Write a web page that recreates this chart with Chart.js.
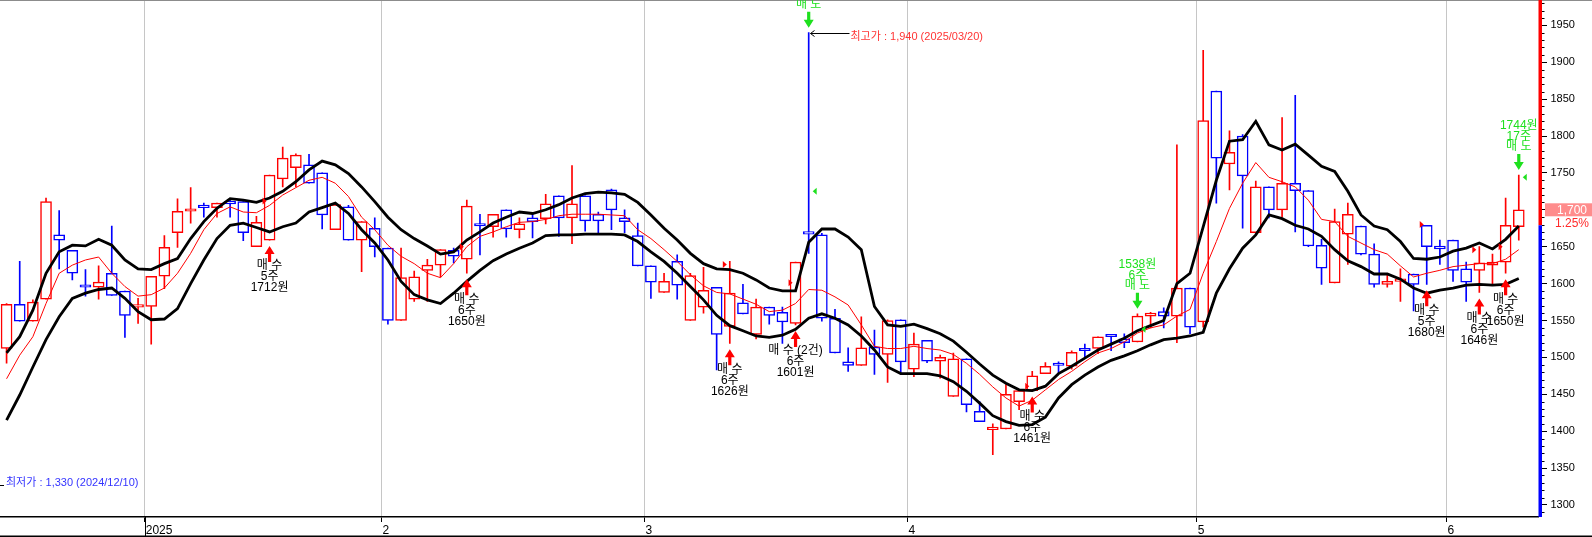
<!DOCTYPE html>
<html>
<head>
<meta charset="utf-8">
<script src="https://cdn.jsdelivr.net/npm/chart.js@4.4.1/dist/chart.umd.min.js"></script>
<style>
  html, body { margin: 0; padding: 0; background: #fff; overflow: hidden; }
  #wrap { width: 1592px; height: 537px; position: relative; }
</style>
</head>
<body>
<div id="wrap"><canvas id="priceChart"></canvas></div>
<script>
// trading days shown on the chart
const dates = [
  '2024-12-13','2024-12-16','2024-12-17','2024-12-18','2024-12-19','2024-12-20','2024-12-23','2024-12-24','2024-12-26','2024-12-27','2024-12-30',
  '2025-01-02','2025-01-03','2025-01-06','2025-01-07','2025-01-08','2025-01-09','2025-01-10','2025-01-13','2025-01-14','2025-01-15',
  '2025-01-16','2025-01-17','2025-01-20','2025-01-21','2025-01-22','2025-01-23','2025-01-24','2025-01-31','2025-02-03','2025-02-04',
  '2025-02-05','2025-02-06','2025-02-07','2025-02-10','2025-02-11','2025-02-12','2025-02-13','2025-02-14','2025-02-17','2025-02-18',
  '2025-02-19','2025-02-20','2025-02-21','2025-02-24','2025-02-25','2025-02-26','2025-02-27','2025-02-28','2025-03-04','2025-03-05',
  '2025-03-06','2025-03-07','2025-03-10','2025-03-11','2025-03-12','2025-03-13','2025-03-14','2025-03-17','2025-03-18','2025-03-19',
  '2025-03-20','2025-03-21','2025-03-24','2025-03-25','2025-03-26','2025-03-27','2025-03-28','2025-03-31','2025-04-01','2025-04-02',
  '2025-04-03','2025-04-04','2025-04-07','2025-04-08','2025-04-09','2025-04-10','2025-04-11','2025-04-14','2025-04-15','2025-04-16',
  '2025-04-17','2025-04-18','2025-04-21','2025-04-22','2025-04-23','2025-04-24','2025-04-25','2025-04-28','2025-04-29','2025-04-30',
  '2025-05-02','2025-05-07','2025-05-08','2025-05-09','2025-05-12','2025-05-13','2025-05-14','2025-05-15','2025-05-16','2025-05-19',
  '2025-05-20','2025-05-21','2025-05-22','2025-05-23','2025-05-26','2025-05-27','2025-05-28','2025-05-29','2025-05-30','2025-06-02',
  '2025-06-04','2025-06-05','2025-06-09','2025-06-10','2025-06-11'
];

const opens = [
  1512,1572,1549,1579,1666,1645,1598,1595,1614,1590,1568,
  1569,1610,1669,1698,1704,1703,1709,1711,1650,1659,
  1742,1757,1761,1750,1673,1704,1659,1675,1648,1550,
  1579,1618,1625,1645,1633,1681,1677,1700,1673,1689,
  1688,1719,1689,1719,1694,1727,1689,1665,1624,1588,
  1630,1550,1568,1595,1542,1574,1531,1568,1561,1546,
  1668,1666,1553,1494,1489,1514,1504,1551,1484,1523,
  1495,1447,1498,1427,1402,1403,1440,1455,1478,1490,
  1488,1512,1512,1529,1525,1521,1556,1562,1556,1594,
  1548,1861,1762,1800,1669,1731,1700,1736,1726,1652,
  1601,1667,1678,1640,1599,1603,1613,1679,1651,1659,
  1620,1618,1625,1629,1677
];
const highs = [
  1573,1630,1578,1716,1699,1645,1619,1624,1678,1590,1580,
  1610,1665,1715,1730,1709,1709,1714,1711,1691,1747,
  1785,1776,1775,1750,1707,1706,1684,1689,1648,1648,
  1617,1633,1646,1648,1713,1694,1694,1700,1689,1694,
  1721,1719,1760,1719,1697,1728,1700,1682,1624,1614,
  1639,1614,1622,1595,1630,1599,1579,1568,1568,1629,
  1940,1668,1565,1513,1555,1537,1551,1551,1533,1523,
  1503,1506,1498,1440,1410,1463,1455,1481,1493,1494,
  1509,1518,1528,1529,1532,1559,1561,1567,1788,1594,
  1916,1861,1807,1802,1739,1731,1825,1855,1726,1660,
  1701,1709,1678,1654,1614,1620,1613,1679,1659,1659,
  1629,1650,1640,1716,1747
];
const lows = [
  1492,1549,1549,1579,1620,1605,1583,1579,1584,1527,1546,
  1518,1593,1649,1682,1690,1690,1690,1658,1650,1659,
  1731,1731,1736,1674,1673,1659,1616,1636,1545,1550,
  1576,1576,1609,1628,1614,1639,1663,1663,1662,1662,
  1681,1664,1654,1671,1667,1673,1669,1624,1580,1588,
  1579,1550,1560,1483,1519,1559,1525,1545,1519,1544,
  1641,1549,1506,1481,1489,1477,1466,1477,1474,1493,
  1472,1447,1426,1413,1368,1403,1429,1455,1478,1479,
  1484,1499,1505,1509,1513,1521,1540,1540,1520,1532,
  1541,1709,1727,1675,1669,1689,1690,1670,1650,1599,
  1601,1626,1639,1595,1595,1576,1563,1599,1626,1603,
  1576,1588,1599,1614,1659
];
const closes = [
  1572,1549,1575,1711,1659,1614,1595,1602,1584,1557,1569,
  1610,1649,1698,1699,1703,1709,1708,1669,1683,1747,
  1770,1774,1736,1693,1707,1659,1684,1650,1550,1608,
  1609,1625,1646,1637,1705,1678,1694,1674,1681,1684,
  1708,1689,1708,1685,1685,1700,1684,1624,1602,1603,
  1598,1611,1591,1531,1587,1559,1568,1557,1548,1629,
  1667,1553,1506,1489,1513,1504,1550,1494,1518,1495,
  1500,1498,1436,1413,1405,1450,1455,1475,1488,1489,
  1507,1509,1528,1528,1520,1556,1560,1556,1594,1541,
  1821,1770,1778,1746,1731,1700,1736,1726,1651,1621,
  1684,1694,1640,1599,1603,1604,1599,1650,1647,1618,
  1602,1628,1629,1679,1700
];

// envelope lines (black) and average line (red)
const upperBand = [
  1506,1528,1564,1614,1643,1652,1651,1660,1652,1632,1620,
  1619,1627,1634,1661,1684,1702,1715,1713,1710,1716,
  1725,1738,1754,1766,1761,1749,1731,1711,1690,1673,
  1661,1651,1640,1643,1659,1670,1682,1690,1697,1695,
  1700,1707,1716,1722,1724,1723,1721,1710,1693,1675,
  1659,1641,1627,1620,1619,1614,1605,1594,1590,1590,
  1656,1674,1674,1663,1646,1569,1544,1542,1545,1539,
  1532,1522,1507,1491,1476,1465,1456,1455,1461,1478,
  1488,1499,1510,1518,1526,1536,1543,1550,1600,1614,
  1677,1740,1793,1795,1820,1788,1781,1789,1774,1759,
  1752,1725,1693,1678,1673,1657,1634,1633,1636,1644,
  1648,1655,1647,1660,1678
];
const lowerBand = [
  1415,1449,1487,1524,1555,1580,1587,1592,1594,1580,1562,
  1551,1552,1566,1600,1632,1661,1679,1682,1676,1670,
  1677,1682,1697,1703,1709,1695,1673,1655,1632,1603,
  1585,1578,1573,1587,1603,1618,1631,1640,1648,1655,
  1665,1666,1666,1667,1667,1667,1666,1657,1643,1630,
  1614,1596,1578,1557,1543,1536,1529,1527,1530,1538,
  1553,1559,1553,1544,1529,1510,1487,1478,1478,1478,
  1475,1467,1454,1438,1421,1413,1408,1409,1419,1445,
  1463,1476,1487,1496,1502,1509,1517,1524,1526,1529,
  1534,1587,1620,1648,1666,1693,1688,1679,1674,1664,
  1646,1631,1623,1613,1613,1606,1594,1587,1591,1594,
  1598,1599,1598,1599,1607
];
const avgLine = [
  1471,1503,1528,1573,1614,1625,1632,1636,1614,1596,1583,
  1585,1594,1614,1641,1673,1695,1704,1697,1696,1706,
  1720,1730,1740,1744,1736,1718,1690,1673,1652,1637,
  1627,1614,1608,1627,1650,1664,1670,1677,1683,1684,
  1687,1692,1694,1694,1694,1693,1692,1673,1661,1646,
  1630,1612,1597,1588,1586,1579,1572,1562,1564,1573,
  1592,1591,1582,1571,1544,1515,1512,1512,1515,1512,
  1510,1504,1492,1477,1460,1445,1434,1442,1456,1470,
  1481,1494,1506,1512,1521,1533,1540,1544,1556,1565,
  1614,1657,1702,1736,1764,1744,1738,1731,1713,1687,
  1684,1664,1655,1646,1640,1624,1609,1614,1618,1623,
  1625,1627,1627,1633,1646
];

// trade signals
const buyIdx   = [20, 35, 55, 60, 78, 108, 112, 114];
const buyPrice = [1712, 1650, 1626, 1601, 1461, 1680, 1646, 1650];
const buyQty   = [5, 6, 6, 6, 6, 5, 6, 6];
const buyCount = [1, 1, 1, 2, 1, 1, 1, 1];
const sellIdx   = [61, 86, 115];
const sellPrice = [1725, 1538, 1744];
const sellQty   = [6, 6, 17];

// lowest price lies left of the visible range
const lowPrice = 1330;
const lowDate = '2024/12/10';

// price axis
const yMin = 1283.7, yMax = 1984.3;
const yTicks = [1300, 1350, 1400, 1450, 1500, 1550, 1600, 1650, 1700, 1750, 1800, 1850, 1900, 1950];

const RED = '#ff0000', BLUE = '#0000ff', GREEN = '#1ee01e';
const FONT = '"Liberation Sans", "Noto Sans CJK KR", sans-serif';
Chart.defaults.font.family = FONT;
Chart.defaults.color = '#000';

const candleColor = closes.map((c, i) => c >= opens[i] ? RED : BLUE);
const labels = dates.concat(['']);

function isMonthStart(i) {
  return i > 0 && i < dates.length && dates[i].slice(0, 7) !== dates[i - 1].slice(0, 7);
}
function xLabel(i) {
  if (!isMonthStart(i)) return '';
  const [yy, mm] = dates[i].split('-');
  return mm === '01' ? yy : String(Number(mm));
}
function fmt(n) { return n.toLocaleString('en-US'); }

function arrow(ctx, x, tip, dir, color) {
  ctx.fillStyle = color;
  ctx.beginPath();
  ctx.moveTo(x, tip);
  ctx.lineTo(x + 5, tip + 8 * dir);
  ctx.lineTo(x + 1.6, tip + 8 * dir);
  ctx.lineTo(x + 1.6, tip + 16 * dir);
  ctx.lineTo(x - 1.6, tip + 16 * dir);
  ctx.lineTo(x - 1.6, tip + 8 * dir);
  ctx.lineTo(x - 5, tip + 8 * dir);
  ctx.closePath();
  ctx.fill();
}
function flag(ctx, x, y, dir, color) {
  ctx.fillStyle = color;
  ctx.beginPath();
  ctx.moveTo(x - dir, y - 3.5);
  ctx.lineTo(x + 3 * dir, y);
  ctx.lineTo(x - dir, y + 3.5);
  ctx.closePath();
  ctx.fill();
}

const overlay = {
  id: 'overlay',
  afterDraw(chart) {
    const { ctx, chartArea: a, scales: { x, y } } = chart;
    const W = chart.width, H = chart.height;
    ctx.save();

    // frame
    ctx.fillStyle = '#8c8c8c';
    ctx.fillRect(0, 0, W, 1);
    ctx.fillStyle = '#000';
    ctx.fillRect(0, H - 1.5, W, 1.5);

    // long tick under the year label
    dates.forEach((d, i) => {
      if (isMonthStart(i) && d.slice(5, 7) === '01') {
        const gx = Math.round((x.getPixelForValue(i) + x.getPixelForValue(i - 1)) / 2) + 0.5;
        ctx.strokeStyle = '#000';
        ctx.lineWidth = 1;
        ctx.beginPath();
        ctx.moveTo(gx, a.bottom);
        ctx.lineTo(gx, H);
        ctx.stroke();
      }
    });

    // right axis: coloured bar split at previous close, minor ticks
    const last = closes.length - 1;
    const yPrev = y.getPixelForValue(closes[last - 1]);
    ctx.fillStyle = RED;
    ctx.fillRect(a.right, a.top, 3.5, yPrev - a.top);
    ctx.fillStyle = BLUE;
    ctx.fillRect(a.right, yPrev, 3.5, a.bottom - yPrev);
    ctx.strokeStyle = '#000';
    ctx.lineWidth = 1;
    for (let v = Math.ceil(y.min / 10) * 10; v <= y.max; v += 10) {
      if (v % 50 === 0) continue;
      const py = Math.round(y.getPixelForValue(v)) + 0.5;
      ctx.beginPath();
      ctx.moveTo(a.right + 3.5, py);
      ctx.lineTo(a.right + 6, py);
      ctx.stroke();
    }

    // current price box
    const yLast = y.getPixelForValue(closes[last]);
    const pct = ((closes[last] - closes[last - 1]) / closes[last - 1] * 100).toFixed(2);
    ctx.fillStyle = '#ff8c8c';
    ctx.fillRect(a.right + 6.5, yLast - 6.5, W - a.right - 6.5, 13);
    ctx.font = '12px ' + FONT;
    ctx.textAlign = 'center';
    ctx.textBaseline = 'middle';
    ctx.fillStyle = '#fff';
    ctx.fillText(fmt(closes[last]), a.right + 33.5, yLast + 0.5);
    ctx.fillStyle = '#ff2a2a';
    ctx.fillText(pct + '%', a.right + 33.5, yLast + 14);

    // clip the rest to the plot
    ctx.beginPath();
    ctx.rect(a.left, a.top, a.right - a.left, a.bottom - a.top);
    ctx.clip();

    // buy signals
    ctx.font = '12px ' + FONT;
    buyIdx.forEach((idx, k) => {
      const cx = x.getPixelForValue(idx);
      const tip = y.getPixelForValue(lows[idx]) + 6;
      arrow(ctx, cx, tip, 1, RED);
      const lines = [buyCount[k] > 1 ? '매 수 (' + buyCount[k] + '건)' : '매 수', buyQty[k] + '주', buyPrice[k] + '원'];
      ctx.fillStyle = '#000';
      lines.forEach((t, j) => ctx.fillText(t, cx, tip + 20 + j * 11));
      flag(ctx, cx - 6, y.getPixelForValue(buyPrice[k]), 1, RED);
    });

    // sell signals
    sellIdx.forEach((idx, k) => {
      const cx = x.getPixelForValue(idx);
      const tip = y.getPixelForValue(highs[idx]) - 5;
      arrow(ctx, cx, tip, -1, GREEN);
      const lines = [sellPrice[k] + '원', sellQty[k] + '주', '매 도'];
      ctx.fillStyle = GREEN;
      lines.forEach((t, j) => ctx.fillText(t, cx, tip - 44 + j * 10.5));
      flag(ctx, cx + 7, y.getPixelForValue(sellPrice[k]), -1, GREEN);
    });

    // highest price marker
    let hi = 0;
    highs.forEach((h, i) => { if (h > highs[hi]) hi = i; });
    const hx = Math.round(x.getPixelForValue(hi)) + 0.5;
    const hy = Math.round(y.getPixelForValue(highs[hi])) + 0.5;
    ctx.strokeStyle = '#000';
    ctx.lineWidth = 1;
    ctx.beginPath();
    ctx.moveTo(hx + 1, hy); ctx.lineTo(hx + 40, hy);
    ctx.moveTo(hx + 5, hy - 3); ctx.lineTo(hx + 1, hy); ctx.lineTo(hx + 5, hy + 3);
    ctx.stroke();
    ctx.font = '11px ' + FONT;
    ctx.textAlign = 'left';
    ctx.fillStyle = '#ff3434';
    ctx.fillText('최고가 : ' + fmt(highs[hi]) + ' (' + dates[hi].replace(/-/g, '/') + ')', hx + 41, hy + 3);

    // lowest price note (off-screen to the left)
    const ly = y.getPixelForValue(lowPrice);
    ctx.fillStyle = '#000';
    ctx.fillRect(0, Math.round(ly) + 2, 4, 1);
    ctx.fillStyle = '#3434ff';
    ctx.fillText('최저가 : ' + fmt(lowPrice) + ' (' + lowDate + ')', 6, ly);

    ctx.restore();
  }
};

new Chart(document.getElementById('priceChart'), {
  type: 'bar',
  data: {
    labels: labels,
    datasets: [
      { type: 'line', label: 'avg', data: avgLine, borderColor: RED, borderWidth: 1,
        pointRadius: 0, tension: 0, order: 1 },
      { type: 'line', label: 'upper', data: upperBand, borderColor: '#000', borderWidth: 2.8,
        pointRadius: 0, tension: 0, order: 2 },
      { type: 'line', label: 'lower', data: lowerBand, borderColor: '#000', borderWidth: 2.8,
        pointRadius: 0, tension: 0, order: 2 },
      { type: 'bar', label: 'body', data: opens.map((o, i) => [o, closes[i]]),
        backgroundColor: '#fff', borderColor: candleColor, borderWidth: 1.5, borderSkipped: false,
        barThickness: 11, minBarLength: 2.5, grouped: false, order: 3 },
      { type: 'bar', label: 'wick', data: lows.map((l, i) => [l, highs[i]]),
        backgroundColor: candleColor, barThickness: 1, grouped: false, order: 4 }
    ]
  },
  options: {
    responsive: true,
    maintainAspectRatio: false,
    animation: false,
    devicePixelRatio: 1,
    layout: { padding: 0 },
    plugins: { legend: { display: false }, tooltip: { enabled: false } },
    scales: {
      x: {
        type: 'category',
        offset: true,
        grid: {
          offset: true,
          color: c => isMonthStart(c.index) ? '#c6c6c6' : 'rgba(0,0,0,0)',
          tickColor: c => isMonthStart(c.index) ? '#000' : 'rgba(0,0,0,0)',
          tickLength: 5,
          lineWidth: 1
        },
        border: { display: true, color: '#000', width: 1.5 },
        ticks: {
          autoSkip: false, maxRotation: 0, minRotation: 0,
          align: 'start', labelOffset: -5.5, padding: 1,
          font: { size: 12 },
          callback: (v, i) => xLabel(i)
        },
        afterFit(s) { s.height = 20; s.paddingLeft = 0; s.paddingRight = 0; }
      },
      y: {
        position: 'right',
        min: yMin,
        max: yMax,
        afterBuildTicks(s) { s.ticks = yTicks.map(v => ({ value: v })); },
        ticks: {
          autoSkip: false, padding: 3.5,
          font: { size: 11 },
          callback: v => String(v)
        },
        grid: { drawOnChartArea: false, drawTicks: true, tickLength: 8.5, tickColor: '#000' },
        border: { display: false },
        afterFit(s) { s.width = 53.5; s.paddingTop = 0; s.paddingBottom = 0; }
      }
    }
  },
  plugins: [overlay]
});
</script>
</body>
</html>
